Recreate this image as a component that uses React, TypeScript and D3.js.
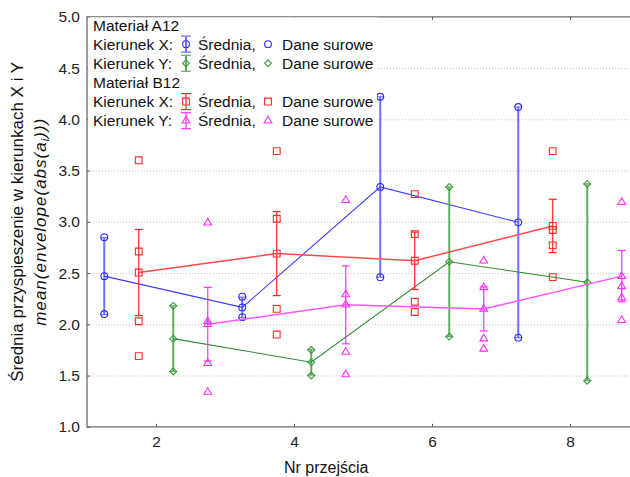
import * as d3 from "d3";
import React, { useEffect, useRef } from "react";

const W = 630;
const H = 477;
const FONT = "'Liberation Sans', Arial, sans-serif";

// positions on "Nr przejścia" axis, each series slightly offset
const xA12X = [1.25, 3.25, 5.25, 7.25];
const xA12Y = [2.25, 4.25, 6.25, 8.25];
const xB12X = [1.75, 3.75, 5.75, 7.75];
const xB12Y = [2.75, 4.75, 6.75, 8.75];

// Materiał A12, Kierunek X
const meanA12X = [2.47, 2.165, 3.34, 2.995];
const seA12X = [0.375, 0.1, 0.88, 1.125];
const rawA12X = [[2.85, 2.1], [2.27, 2.07], [4.22, 2.46], [4.12, 1.87]];

// Materiał A12, Kierunek Y
const meanA12Y = [1.86, 1.63, 2.61, 2.41];
const seA12Y = [0.32, 0.125, 0.73, 0.96];
const rawA12Y = [[2.18, 1.54], [1.75, 1.5], [3.34, 1.88], [3.37, 1.45]];

// Materiał B12, Kierunek X
const meanB12X = [2.505, 2.69, 2.62, 2.96];
const seB12X = [0.42, 0.41, 0.28, 0.26];
const rawB12X = [[3.6, 2.71, 2.03, 1.69], [3.69, 3.03, 2.15, 1.9], [3.27, 2.88, 2.22, 2.12], [3.69, 2.92, 2.77, 2.46]];

// Materiał B12, Kierunek Y
const meanB12Y = [2.0, 2.19, 2.15, 2.47];
const seB12Y = [0.36, 0.38, 0.215, 0.25];
const rawB12Y = [[2.99, 2.03, 1.62, 1.34], [3.21, 2.29, 1.73, 1.51], [2.62, 2.36, 1.86, 1.76], [3.19, 2.37, 2.26, 2.04]];

const xTicks = [2, 4, 6, 8];
const yTicks = [1.0, 1.5, 2.0, 2.5, 3.0, 3.5, 4.0, 4.5, 5.0];
const gridTicks = [1.5, 2.0, 2.5, 3.0, 3.5, 4.0, 4.5];

const diamond = (d3 as any).symbolDiamond2 || d3.symbolDiamond;

const series = [
  { xs: xA12X, mean: meanA12X, se: seA12X, raw: rawA12X, color: "#2b2bff", line: "#3a3aff", lineW: 1.1, err: "#6e6eff", errW: 2, sym: d3.symbolCircle, size: 36 },
  { xs: xA12Y, mean: meanA12Y, se: seA12Y, raw: rawA12Y, color: "#3d9a3d", line: "#2e8a2e", lineW: 1.1, err: "#5fae5f", errW: 2, sym: diamond, size: 30 },
  { xs: xB12X, mean: meanB12X, se: seB12X, raw: rawB12X, color: "#ff2a2a", line: "#ff4a4a", lineW: 1.5, err: "#ff2020", errW: 1.2, sym: d3.symbolSquare, size: 46 },
  { xs: xB12Y, mean: meanB12Y, se: seB12Y, raw: rawB12Y, color: "#ff30ff", line: "#ff55ff", lineW: 1.5, err: "#ff30ff", errW: 1.2, sym: d3.symbolTriangle, size: 26 },
];

const App: React.FC = () => {
  const svgRef = useRef<SVGSVGElement | null>(null);

  useEffect(() => {
    const svg = d3.select(svgRef.current);
    svg.selectAll("*").remove();

    const x = d3.scaleLinear().domain([1, 9]).range([87, 639]);
    const y = d3.scaleLinear().domain([1, 5]).range([426.8, 16.8]);
    const plotW = x(9) - x(1);

    // dotted gridlines
    svg
      .append("g")
      .attr("transform", `translate(${x(1)},0)`)
      .call(d3.axisLeft(y).tickValues(gridTicks).tickSize(-plotW).tickFormat(() => ""))
      .call((g) => g.select(".domain").remove())
      .selectAll("line")
      .attr("stroke", "#c4c4c4")
      .attr("stroke-dasharray", "1,2");

    // axes
    const yAxis = svg
      .append("g")
      .attr("transform", `translate(${x(1)},0)`)
      .call(d3.axisLeft(y).tickValues(yTicks).tickSize(-3).tickPadding(7).tickFormat(d3.format(".1f")));
    yAxis.select(".domain").remove();

    const xAxis = svg
      .append("g")
      .attr("transform", `translate(0,${y(1)})`)
      .call(d3.axisBottom(x).tickValues(xTicks).tickSize(-3).tickPadding(9).tickFormat(d3.format("d")));
    xAxis.select(".domain").remove();

    svg
      .append("g")
      .attr("transform", `translate(0,${y(5)})`)
      .call(d3.axisTop(x).tickValues(xTicks).tickSize(-3).tickFormat(() => ""))
      .call((g) => g.select(".domain").remove());

    [yAxis, xAxis].forEach((a) =>
      a.selectAll("text").attr("font-family", FONT).attr("font-size", 15.5).attr("fill", "#222"),
    );
    svg.selectAll(".tick line").filter(function () {
      return !(this as SVGLineElement).getAttribute("stroke-dasharray");
    }).attr("stroke", "#555");

    // frame
    svg
      .append("path")
      .attr("d", `M${x(9)},${y(5)}H${x(1)}V${y(1)}H${x(9)}`)
      .attr("fill", "none")
      .attr("stroke", "#6a6a6a")
      .attr("stroke-width", 1.3);

    const line = d3
      .line<[number, number]>()
      .x((d) => x(d[0]))
      .y((d) => y(d[1]));

    series.forEach((s) => {
      const g = svg.append("g");
      // error bars (mean ± SE)
      s.xs.forEach((xv, i) => {
        const top = y(s.mean[i] + s.se[i]);
        const bot = y(s.mean[i] - s.se[i]);
        g.append("line").attr("x1", x(xv)).attr("x2", x(xv)).attr("y1", top).attr("y2", bot)
          .attr("stroke", s.err).attr("stroke-width", s.errW);
        [top, bot].forEach((yy) =>
          g.append("line").attr("x1", x(xv) - 4).attr("x2", x(xv) + 4).attr("y1", yy).attr("y2", yy)
            .attr("stroke", s.err).attr("stroke-width", 1.2),
        );
      });
      // mean line
      g.append("path")
        .attr("d", line(s.xs.map((xv, i) => [xv, s.mean[i]] as [number, number]))!)
        .attr("fill", "none")
        .attr("stroke", s.line)
        .attr("stroke-width", s.lineW);
      const sym = d3.symbol().type(s.sym).size(s.size);
      // mean markers
      s.xs.forEach((xv, i) => {
        g.append("path").attr("d", sym()!).attr("transform", `translate(${x(xv)},${y(s.mean[i])})`)
          .attr("fill", "none").attr("stroke", s.color).attr("stroke-width", 1.1);
      });
      // raw data
      s.xs.forEach((xv, i) => {
        s.raw[i].forEach((v) => {
          g.append("path").attr("d", sym()!).attr("transform", `translate(${x(xv)},${y(v)})`)
            .attr("fill", "none").attr("stroke", s.color).attr("stroke-width", 1.1);
        });
      });
    });

    // legend
    const lg = svg.append("g").attr("font-family", FONT).attr("font-size", 15.5).attr("fill", "#111");
    lg.append("rect").attr("x", 88).attr("y", 17.5).attr("width", 289).attr("height", 113).attr("fill", "#fff");
    const rowY = (i: number) => 30.5 + i * 19.14;
    lg.append("text").attr("x", 93).attr("y", rowY(0)).text("Materiał A12");
    lg.append("text").attr("x", 93).attr("y", rowY(3)).text("Materiał B12");
    const legRows = [
      { row: 1, label: "Kierunek X:", s: series[0] },
      { row: 2, label: "Kierunek Y:", s: series[1] },
      { row: 4, label: "Kierunek X:", s: series[2] },
      { row: 5, label: "Kierunek Y:", s: series[3] },
    ];
    legRows.forEach(({ row, label, s }) => {
      const cy = rowY(row) - 5.5;
      lg.append("text").attr("x", 93).attr("y", rowY(row)).text(label);
      lg.append("line").attr("x1", 186).attr("x2", 186).attr("y1", cy - 8).attr("y2", cy + 8)
        .attr("stroke", s.err).attr("stroke-width", s.errW);
      [cy - 8, cy + 8].forEach((yy) =>
        lg.append("line").attr("x1", 181).attr("x2", 191).attr("y1", yy).attr("y2", yy)
          .attr("stroke", s.err).attr("stroke-width", 1.2),
      );
      const sym = d3.symbol().type(s.sym).size(s.size);
      lg.append("path").attr("d", sym()!).attr("transform", `translate(186,${cy})`)
        .attr("fill", "none").attr("stroke", s.color).attr("stroke-width", 1.1);
      lg.append("text").attr("x", 198).attr("y", rowY(row)).text("Średnia,");
      lg.append("path").attr("d", sym()!).attr("transform", `translate(268,${cy})`)
        .attr("fill", "none").attr("stroke", s.color).attr("stroke-width", 1.1);
      lg.append("text").attr("x", 282).attr("y", rowY(row)).text("Dane surowe");
    });

    // axis titles
    svg.append("text")
      .attr("x", 284)
      .attr("y", 473)
      .attr("font-family", FONT)
      .attr("font-size", 16)
      .attr("fill", "#111")
      .text("Nr przejścia");

    const yc = (y(1) + y(5)) / 2;
    svg.append("text")
      .attr("transform", `translate(23,${yc}) rotate(-90)`)
      .attr("text-anchor", "middle")
      .attr("font-family", FONT)
      .attr("font-size", 17)
      .attr("fill", "#111")
      .text("Średnia przyspieszenie w kierunkach X i Y");

    const t2 = svg.append("text")
      .attr("transform", `translate(46,${yc}) rotate(-90)`)
      .attr("text-anchor", "middle")
      .attr("font-family", FONT)
      .attr("font-size", 17)
      .attr("letter-spacing", 1)
      .attr("font-style", "italic")
      .attr("fill", "#111");
    t2.append("tspan").text("mean(envelope(abs(a");
    t2.append("tspan").attr("font-size", 11).attr("dy", 3).text("i");
    t2.append("tspan").attr("dy", -3).text(")))");
  }, []);

  return (
    <svg
      ref={svgRef}
      width={W}
      height={H}
      style={{ position: "absolute", left: 0, top: 0, background: "#fff" }}
    />
  );
};

export default App;
